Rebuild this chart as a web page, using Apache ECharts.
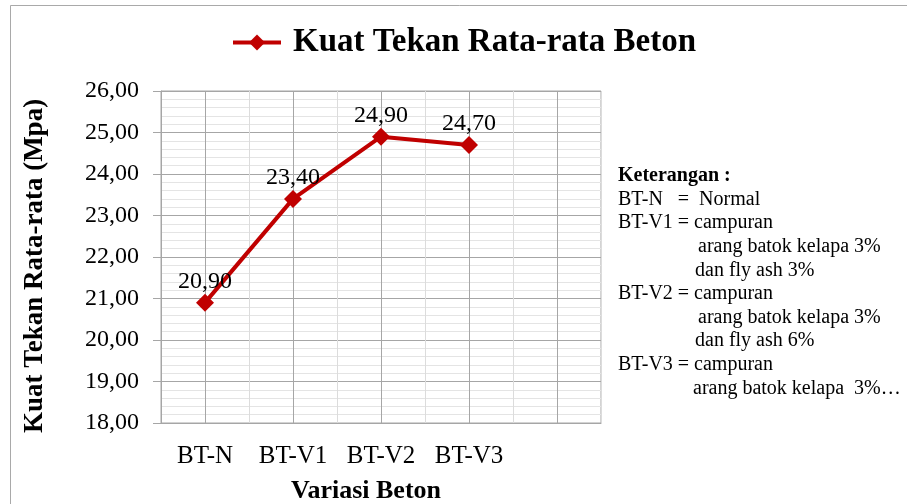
<!DOCTYPE html>
<html>
<head>
<meta charset="utf-8">
<style>
  html, body { margin: 0; padding: 0; background: #fff; }
  #chart { width: 907px; height: 504px; }
</style>
<script src="https://cdn.jsdelivr.net/npm/echarts@6/dist/echarts.min.js"></script>
</head>
<body>
<div id="chart"></div>
<script>
// data
const seriesName = 'Kuat Tekan Rata-rata Beton'
const categories = ['BT-N', 'BT-V1', 'BT-V2', 'BT-V3', '']
const values = [20.9, 23.4, 24.9, 24.7, null]
const yMin = 18
const yMax = 26
const notes = [
  { text: 'Keterangan :', indent: 0, bold: true },
  { text: 'BT-N   =  Normal', indent: 0 },
  { text: 'BT-V1 = campuran', indent: 0 },
  { text: 'arang batok kelapa 3%', indent: 80 },
  { text: 'dan fly ash 3%', indent: 77 },
  { text: 'BT-V2 = campuran', indent: 0 },
  { text: 'arang batok kelapa 3%', indent: 80 },
  { text: 'dan fly ash 6%', indent: 77 },
  { text: 'BT-V3 = campuran', indent: 0 },
  { text: 'arang batok kelapa  3%…', indent: 75 }
]

const font = 'Liberation Serif'
const red = '#c00000'
const fmt = v => Number(v).toFixed(2).replace('.', ',')

const chart = echarts.init(document.getElementById('chart'))

// keterangan di sebelah kanan
const noteTexts = notes.map((n, i) => ({
  type: 'text',
  left: 618 + n.indent,
  top: 166 + i * 23.6,
  style: {
    text: n.text,
    fontFamily: font,
    fontSize: 20,
    fontWeight: n.bold ? 'bold' : 'normal',
    fill: '#000'
  }
}))

chart.setOption({
  animation: false,
  backgroundColor: '#fff',
  legend: {
    data: [{ name: seriesName, lineStyle: { width: 4, color: red } }],
    left: 226,
    top: 21,
    itemWidth: 48,
    itemHeight: 20,
    lineStyle: { width: 4 },
    textStyle: {
      fontFamily: font,
      fontSize: 33,
      fontWeight: 'bold',
      color: '#000',
      padding: [0, 0, 0, 7]
    }
  },
  graphic: [
    {
      type: 'rect',
      shape: { x: 10.5, y: 5.5, width: 1000, height: 600 },
      style: { fill: 'none', stroke: '#a9a9a9', lineWidth: 1 },
      silent: true
    },
    ...noteTexts
  ],
  grid: {
    left: 161,
    right: 306,
    top: 91,
    bottom: 81,
    outerBoundsMode: 'none',
    show: true,
    borderColor: '#a6a6a6',
    borderWidth: 1
  },
  xAxis: {
    type: 'category',
    data: categories,
    boundaryGap: true,
    name: 'Variasi Beton',
    nameLocation: 'middle',
    nameGap: 55,
    nameTextStyle: {
      fontFamily: font,
      fontSize: 26,
      fontWeight: 'bold',
      color: '#000',
      padding: [0, 30, 0, 0]
    },
    axisLine: { lineStyle: { color: '#a6a6a6', width: 1 } },
    axisTick: { show: false },
    axisLabel: {
      fontFamily: font,
      fontSize: 25,
      color: '#000',
      margin: 21,
      interval: 0
    },
    splitLine: {
      show: true,
      interval: 0,
      lineStyle: { color: '#dcdcdc', width: 1 }
    }
  },
  yAxis: {
    type: 'value',
    min: yMin,
    max: yMax,
    interval: 1,
    name: 'Kuat Tekan Rata-rata (Mpa)',
    nameLocation: 'middle',
    nameGap: 112,
    nameTextStyle: {
      fontFamily: font,
      fontSize: 27,
      fontWeight: 'bold',
      color: '#000',
      padding: [0, 18, 0, 0]
    },
    axisLine: { show: true, lineStyle: { color: '#a6a6a6', width: 1 } },
    axisTick: { show: true, inside: false, length: 8, lineStyle: { color: '#a6a6a6' } },
    axisLabel: {
      fontFamily: font,
      fontSize: 24,
      color: '#000',
      margin: 22,
      formatter: fmt
    },
    splitLine: { show: true, lineStyle: { color: '#a6a6a6', width: 1 } },
    minorTick: { show: false, splitNumber: 5 },
    minorSplitLine: { show: true, lineStyle: { color: '#e4e4e4', width: 1 } }
  },
  series: [{
    name: seriesName,
    type: 'line',
    data: values,
    symbol: 'diamond',
    symbolSize: 18,
    lineStyle: { color: red, width: 4 },
    itemStyle: { color: red },
    label: {
      show: true,
      position: 'top',
      distance: 0,
      fontFamily: font,
      fontSize: 24,
      color: '#000',
      formatter: p => fmt(p.value)
    },
    markLine: {
      silent: true,
      symbol: 'none',
      label: { show: false },
      lineStyle: { color: '#a6a6a6', width: 1, type: 'solid' },
      z: 1,
      data: categories.map((c, i) => ({ xAxis: i }))
    },
    z: 3
  }]
})
</script>
</body>
</html>
